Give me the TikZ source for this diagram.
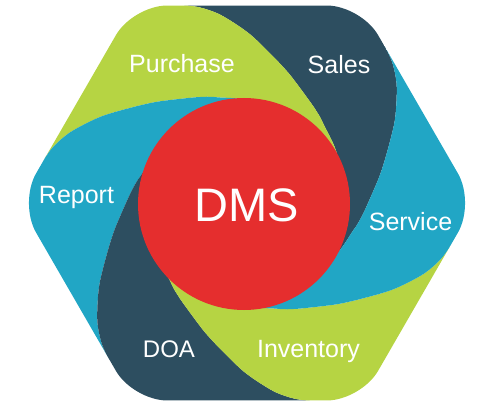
\documentclass[tikz,border=0pt]{standalone}
\usepackage{fontspec}
\setmainfont{Liberation Sans}
\definecolor{pgreen}{HTML}{B6D443}
\definecolor{pnavy}{HTML}{2D4E60}
\definecolor{pteal}{HTML}{21A6C5}
\definecolor{pred}{HTML}{E52E2E}
\newcommand\petal[2]{\fill[#2, rotate=#1] (0,0) -- plot[smooth] coordinates {(-60:70) (-35:100) (-14:110) (-6:116) (2:123) (12:136) (20.5:150) (29.5:170) (38:190) (44:202) (49.5:210) (56:222) (64:240) (75:265)} -- (105:330) -- plot[smooth] coordinates {(135:265) (124:240) (116:222) (109.5:210) (104:202) (98:190) (89.5:170) (80.5:150) (72:136) (62:123) (54:116) (46:110) (25:100) (0:70)} -- cycle;}
\tikzset{
  lbl/.style={text=white, font=\fontsize{25}{30}\selectfont, anchor=base, inner sep=0pt},
  core/.style={circle, fill=pred, minimum size=212pt, inner sep=0pt},
}
\begin{document}
\begin{tikzpicture}[x=1pt,y=1pt]
\useasboundingbox (0,0) rectangle (500,410);
\begin{scope}[shift={(247,207)}]
  \clip[rounded corners=34pt] (30:197.45) -- (60:228) -- (120:228) -- (180:228) -- (240:228) -- (300:228) -- (0:228) -- cycle;
  \petal{0}{pnavy}
  \petal{60}{pgreen}
  \petal{120}{pteal}
  \petal{180}{pnavy}
  \petal{240}{pgreen}
  \petal{300}{pteal}
\end{scope}
\node[core] (centre) at (244,206) {};
\node[lbl, font=\fontsize{47}{56}\selectfont] (dms) at (247,188.3) {DMS};
\node[lbl] (purchase) at (182,337) {Purchase};
\node[lbl] (sales) at (339,336) {Sales};
\node[lbl] (report) at (76.5,207) {Report};
\node[lbl] (service) at (410.5,180) {Service};
\node[lbl] (inventory) at (308.5,53) {Inventory};
\node[lbl, font=\fontsize{24}{29}\selectfont] (doa) at (169,52.3) {DOA};
\end{tikzpicture}
\end{document}
